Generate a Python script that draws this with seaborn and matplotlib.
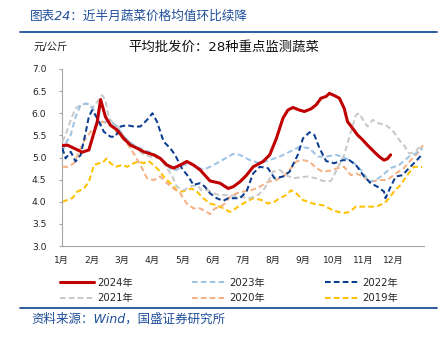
import matplotlib
matplotlib.use("Agg")
import matplotlib.pyplot as plt
import seaborn as sns
import pandas as pd
from matplotlib.lines import Line2D

sns.set_theme(style="white")
plt.rcParams['font.family'] = ['DejaVu Sans', 'Noto Sans CJK SC']

# ---- data (x = month position, 0 = 1月) ----
month_labels = ['1月', '2月', '3月', '4月', '5月', '6月', '7月', '8月', '9月', '10月', '11月', '12月']

x2024 = [0.02, 0.19, 0.68, 0.90, 1.18, 1.29, 1.45, 1.62, 1.84, 2.06, 2.28, 2.50, 2.72, 3.05, 3.27, 3.49, 3.71,
         3.93, 4.15, 4.37, 4.59, 4.92, 5.25, 5.52, 5.69, 5.91, 6.13, 6.35, 6.68, 6.90, 7.12, 7.34, 7.50, 7.67,
         7.89, 8.05, 8.27, 8.44, 8.60, 8.77, 8.88, 9.04, 9.21, 9.37, 9.48, 9.65, 9.81, 9.98, 10.14, 10.36, 10.53,
         10.69, 10.80, 10.91]
y2024 = [5.27, 5.28, 5.12, 5.17, 5.81, 6.31, 5.92, 5.73, 5.62, 5.43, 5.28, 5.21, 5.13, 5.06, 4.98, 4.83, 4.76,
         4.83, 4.91, 4.83, 4.72, 4.47, 4.42, 4.30, 4.34, 4.45, 4.60, 4.79, 4.91, 5.06, 5.43, 5.89, 6.07, 6.13,
         6.07, 6.04, 6.10, 6.19, 6.34, 6.38, 6.45, 6.40, 6.34, 6.11, 5.81, 5.66, 5.51, 5.40, 5.28, 5.13, 5.02,
         4.94, 4.97, 5.06]

x2023 = [0.02, 0.13, 0.30, 0.46, 0.63, 0.79, 0.96, 1.07, 1.18, 1.29, 1.45, 1.62, 1.84, 2.06, 2.39, 2.72, 3.05,
         3.27, 3.49, 3.65, 3.82, 4.04, 4.26, 4.48, 4.70, 4.92, 5.25, 5.58, 5.69, 5.91, 6.24, 6.57, 6.90, 7.23,
         7.56, 7.89, 8.22, 8.49, 8.77, 9.10, 9.43, 9.70, 9.98, 10.20, 10.42, 10.64, 10.91, 11.19, 11.52, 11.85,
         11.96]
y2023 = [5.13, 5.32, 5.51, 5.92, 6.19, 6.22, 6.19, 6.07, 5.85, 5.73, 5.81, 5.82, 5.70, 5.47, 5.28, 5.17, 5.09,
         4.98, 4.83, 4.72, 4.72, 4.83, 4.87, 4.79, 4.72, 4.79, 4.91, 5.04, 5.08, 5.06, 4.94, 4.87, 4.94, 5.02,
         5.13, 5.24, 5.21, 5.02, 5.02, 5.06, 4.98, 4.87, 4.68, 4.45, 4.49, 4.60, 4.76, 4.83, 5.02, 5.13,
         5.21]

x2022 = [0.02, 0.13, 0.30, 0.46, 0.63, 0.79, 0.90, 1.01, 1.18, 1.40, 1.62, 1.78, 1.95, 2.17, 2.39, 2.61, 2.83,
         3.01, 3.16, 3.38, 3.60, 3.76, 3.98, 4.20, 4.37, 4.59, 4.75, 4.92, 5.14, 5.36, 5.52, 5.69, 5.91, 6.13,
         6.35, 6.57, 6.84, 7.06, 7.34, 7.56, 7.83, 8.00, 8.22, 8.38, 8.55, 8.77, 9.04, 9.32, 9.54, 9.76, 10.03,
         10.25, 10.47, 10.69, 10.74, 10.91, 11.08, 11.30, 11.52, 11.74, 11.94]
y2022 = [5.21, 4.98, 5.13, 4.91, 5.06, 5.55, 5.92, 6.07, 5.89, 5.58, 5.47, 5.47, 5.70, 5.73, 5.70, 5.70, 5.85,
         6.00, 5.81, 5.36, 5.21, 5.06, 4.76, 4.57, 4.38, 4.42, 4.34, 4.19, 4.08, 4.02, 4.08, 4.08, 4.08, 4.23,
         4.64, 4.79, 4.76, 4.53, 4.57, 4.68, 5.06, 5.43, 5.57, 5.51, 5.21, 4.92, 4.87, 4.94, 4.94, 4.83, 4.57,
         4.42, 4.34, 4.23, 4.08, 4.34, 4.57, 4.60, 4.76, 4.91, 5.06]

x2021 = [0.02, 0.13, 0.30, 0.46, 0.63, 0.85, 1.01, 1.18, 1.34, 1.45, 1.56, 1.67, 1.84, 2.11, 2.39, 2.66, 2.94,
         3.27, 3.49, 3.65, 3.82, 4.04, 4.26, 4.48, 4.64, 4.86, 5.03, 5.25, 5.58, 5.91, 6.24, 6.51, 6.73, 7.01,
         7.23, 7.45, 7.67, 7.89, 8.16, 8.44, 8.66, 8.93, 9.15, 9.37, 9.59, 9.76, 9.87, 10.03, 10.14, 10.31,
         10.53, 10.75, 10.97, 11.19, 11.35, 11.52, 11.74, 11.90]
y2021 = [5.36, 5.51, 5.85, 6.11, 6.19, 6.22, 6.11, 6.26, 6.41, 6.30, 5.89, 5.81, 5.70, 5.43, 5.28, 5.09, 5.02,
         4.98, 4.76, 4.60, 4.34, 4.26, 4.34, 4.38, 4.26, 4.26, 4.19, 4.15, 4.15, 4.11, 4.08, 4.15, 4.30, 4.68,
         4.72, 4.60, 4.53, 4.55, 4.57, 4.53, 4.47, 4.47, 4.76, 5.06, 5.58, 5.96, 6.00, 5.81, 5.70, 5.85,
         5.77, 5.73, 5.62, 5.40, 5.28, 5.09, 5.13, 5.28]

x2020 = [0.02, 0.19, 0.41, 0.63, 0.79, 1.01, 1.18, 1.34, 1.51, 1.73, 1.95, 2.17, 2.39, 2.61, 2.83, 3.05, 3.27,
         3.49, 3.71, 3.93, 4.15, 4.37, 4.59, 4.81, 4.92, 5.08, 5.25, 5.41, 5.58, 5.80, 6.02, 6.29, 6.57, 6.84,
         7.12, 7.39, 7.61, 7.78, 8.00, 8.22, 8.44, 8.66, 8.88, 9.15, 9.37, 9.59, 9.76, 9.98, 10.25, 10.53, 10.80,
         11.08, 11.35, 11.63, 11.85, 11.98]
y2020 = [4.79, 4.79, 4.87, 5.21, 5.43, 5.62, 5.73, 5.81, 5.77, 5.66, 5.47, 5.32, 5.09, 4.83, 4.53, 4.49, 4.57,
         4.42, 4.30, 4.19, 3.96, 3.85, 3.85, 3.77, 3.72, 3.85, 3.88, 3.96, 4.11, 4.19, 4.23, 4.26, 4.34, 4.45,
         4.49, 4.60, 4.76, 4.91, 4.94, 4.91, 4.76, 4.68, 4.70, 4.76, 4.79, 4.60, 4.64, 4.57, 4.45, 4.49, 4.49,
         4.64, 4.76, 4.98, 5.13, 5.28]

x2019 = [0.02, 0.19, 0.35, 0.52, 0.74, 0.90, 1.07, 1.23, 1.34, 1.49, 1.62, 1.78, 2.00, 2.17, 2.39, 2.55, 2.72,
         2.88, 3.05, 3.21, 3.38, 3.60, 3.82, 3.98, 4.15, 4.31, 4.48, 4.70, 4.92, 5.14, 5.36, 5.58, 5.69, 5.91,
         6.13, 6.35, 6.62, 6.84, 7.06, 7.23, 7.45, 7.61, 7.78, 8.00, 8.33, 8.66, 8.99, 9.32, 9.54, 9.76, 10.09,
         10.42, 10.69, 10.86, 11.02, 11.24, 11.46, 11.68, 11.96]
y2019 = [4.00, 4.04, 4.08, 4.23, 4.30, 4.45, 4.83, 4.87, 4.87, 4.98, 4.87, 4.79, 4.83, 4.79, 4.87, 4.91, 4.87,
         4.92, 4.83, 4.72, 4.57, 4.42, 4.26, 4.23, 4.26, 4.30, 4.23, 4.08, 3.96, 3.92, 3.85, 3.77, 3.81, 3.92,
         4.00, 4.08, 4.04, 3.96, 4.00, 4.08, 4.15, 4.26, 4.19, 4.04, 3.96, 3.92, 3.81, 3.74, 3.77, 3.89, 3.89,
         3.89, 3.96, 4.08, 4.23, 4.38, 4.60, 4.79, 4.79]

series = [
    ('2019年', x2019, y2019, '#FFC000', 'dash'),
    ('2020年', x2020, y2020, '#F4B183', 'dash'),
    ('2021年', x2021, y2021, '#C9C9C9', 'dash'),
    ('2023年', x2023, y2023, '#9DC3E6', 'dash'),
    ('2022年', x2022, y2022, '#0A3D91', 'dash'),
    ('2024年', x2024, y2024, '#C00000', 'solid'),
]

W, H = 444, 342
fig = plt.figure(figsize=(W / 100, H / 100), dpi=100)
fig.patch.set_facecolor('white')

ax = fig.add_axes([61.7 / W, (H - 246) / H, (423.5 - 61.7) / W, 177 / H])
ax.set_facecolor('white')

DASH = (0, (2.8, 1.6))
handles = {}
for i, (name, xs, ys, color, kind) in enumerate(series):
    df = pd.DataFrame({'月份': xs, '价格': ys})
    if kind == 'solid':
        lw, ls = 2.2, '-'
    else:
        lw, ls = 1.45, DASH
    sns.lineplot(data=df, x='月份', y='价格', ax=ax, color=color, linewidth=lw,
                 linestyle=ls, sort=False, estimator=None, legend=False, zorder=2 + i)
    handles[name] = Line2D([], [], color=color, linewidth=lw, linestyle=ls)

ax.set_xlim(0, 12)
ax.set_ylim(3.0, 7.0)
ax.set_xticks(range(12))
ax.set_xticklabels(month_labels)
ax.set_yticks([3.0 + 0.5 * k for k in range(9)])
ax.set_yticklabels([f'{3.0 + 0.5 * k:.1f}' for k in range(9)])
ax.set_xlabel('')
ax.set_ylabel('')
for s in ['top', 'right']:
    ax.spines[s].set_visible(False)
for s in ['left', 'bottom']:
    ax.spines[s].set_color('#A6A6A6')
    ax.spines[s].set_linewidth(0.8)
ax.tick_params(axis='y', length=2.5, width=0.8, color='#A6A6A6', pad=8.5, labelsize=6.6, labelcolor='#222222', left=True)
ax.tick_params(axis='x', length=0, pad=7.5, labelsize=6.6, labelcolor='#222222')
ax.grid(False)

# legend (row-wise order for 3 columns)
order = ['2024年', '2021年', '2023年', '2020年', '2022年', '2019年']
fig.legend([handles[k] for k in order], order, ncol=3, loc='upper left',
           bbox_to_anchor=(60 / W, (H - 278) / H), frameon=False, borderpad=0, borderaxespad=0,
           handlelength=3.35, handletextpad=0.3, columnspacing=5.9, labelspacing=0.5,
           prop={'size': 7.3})

blue = '#1F4E9A'
fig.text(30 / W, 1 - 16 / H, '图表24：近半月蔬菜价格均值环比续降', color=blue, fontsize=9.1,
         style='italic', ha='left', va='center')
fig.add_artist(Line2D([20 / W, 437 / W], [1 - 32 / H, 1 - 32 / H], color=blue, linewidth=1.3))
fig.text(33 / W, 1 - 47 / H, '元/公斤', fontsize=7.4, color='#222222', ha='left', va='center')
fig.text(223.5 / W, 1 - 47 / H, '平均批发价：28种重点监测蔬菜', fontsize=9.6, color='#111111',
         ha='center', va='center')
fig.add_artist(Line2D([20 / W, 437 / W], [1 - 308 / H, 1 - 308 / H], color=blue, linewidth=1.3))
fig.text(31 / W, 1 - 319.5 / H, '资料来源：Wind，国盛证券研究所', color=blue, fontsize=9,
         style='italic', ha='left', va='center')

fig.savefig('out.png', dpi=100, facecolor='white')
